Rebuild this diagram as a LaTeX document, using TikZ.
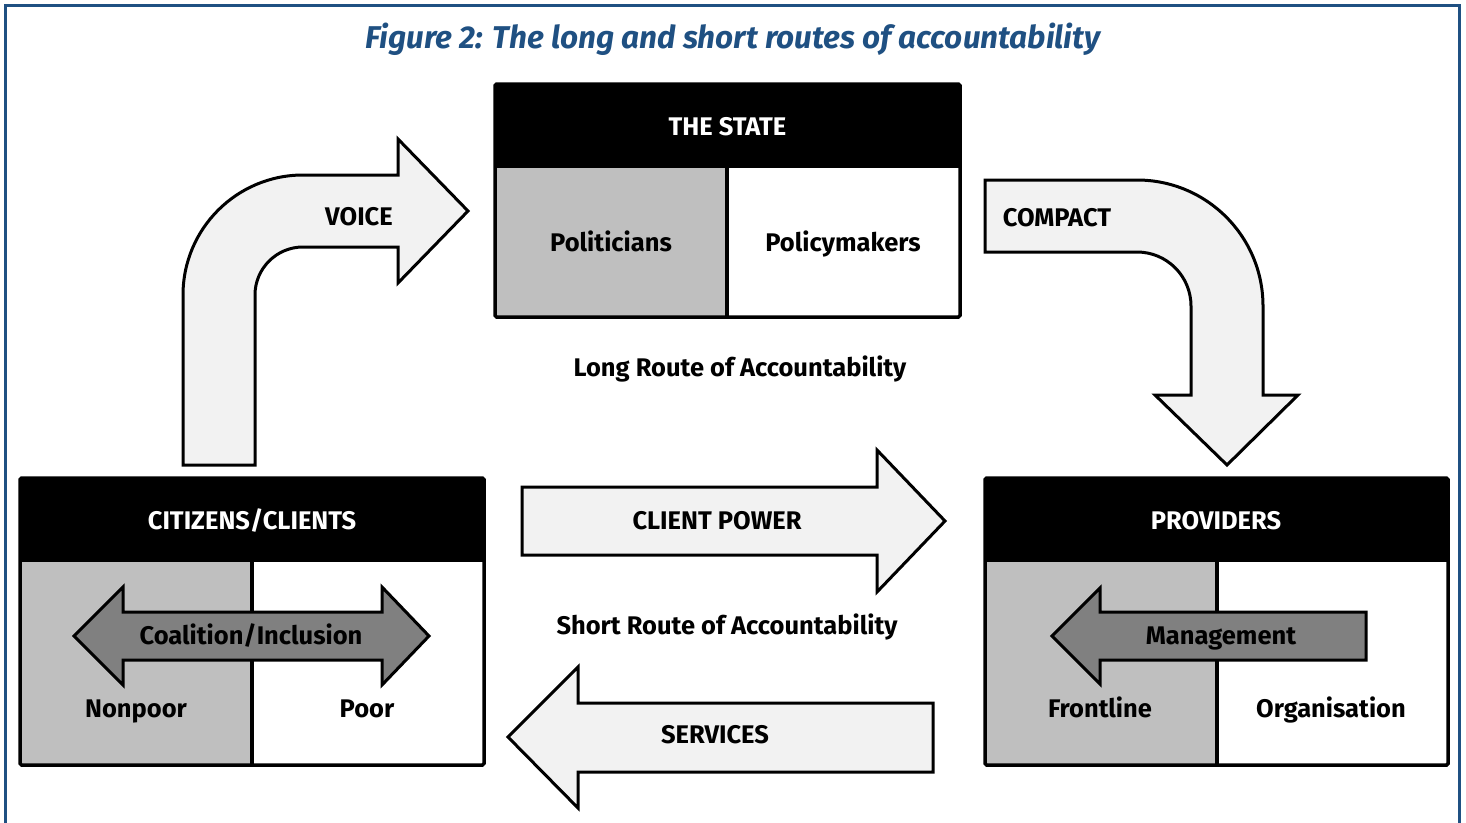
\documentclass[tikz,border=0pt]{standalone}
\usepackage{fontspec}
\setmainfont{Fira Sans}
\definecolor{framebl}{RGB}{31,80,130}
\definecolor{cellgr}{RGB}{191,191,191}
\definecolor{arrlight}{RGB}{242,242,242}
\definecolor{arrdark}{RGB}{128,128,128}
\tikzset{
  lbl/.style={font=\fontsize{25.5}{30}\selectfont\bfseries,inner sep=0pt,text height=17.6pt,text depth=0pt},
  hdrlbl/.style={lbl,text=white},
  blockarr/.style={draw,line width=3pt,fill=arrlight,line join=miter},
  innerarr/.style={blockarr,fill=arrdark},
  boxline/.style={draw,line width=3.5pt,rounded corners=1.5pt}
}
\begin{document}
\begin{tikzpicture}[x=1pt,y=-1pt]
\clip (0,0) rectangle (1466,822);
\draw[framebl,line width=3pt] (5,5) rectangle (1459,860);
\node[font=\fontsize{31.5}{36}\selectfont\bfseries\itshape,text=framebl,inner sep=0pt,text height=21.7pt,text depth=0pt] (title) at (733,38) {Figure 2: The long and short routes of accountability};
% the state
\fill (495,84) rectangle (960,168);
\fill[cellgr] (495,168) rectangle (727,317);
\draw[line width=3.5pt] (727,168)--(727,317);
\draw[boxline] (495,84) rectangle (960,317);
\node[hdrlbl] (state) at (727.5,127) {THE STATE};
\node[lbl] (politicians) at (611,243) {Politicians};
\node[lbl] (policymakers) at (843,243) {Policymakers};
\node[lbl] (longroute) at (740,368) {Long Route of Accountability};
% citizens/clients
\fill (20,478) rectangle (484,562);
\fill[cellgr] (20,562) rectangle (252,765);
\draw[line width=3.5pt] (252,562)--(252,765);
\draw[boxline] (20,478) rectangle (484,765);
\node[hdrlbl] (citizens) at (252,521) {CITIZENS/CLIENTS};
\node[lbl] (nonpoor) at (136,709) {Nonpoor};
\node[lbl] (poor) at (367,709) {Poor};
% providers
\fill (985,478) rectangle (1448,562);
\fill[cellgr] (985,562) rectangle (1217,765);
\draw[line width=3.5pt] (1217,562)--(1217,765);
\draw[boxline] (985,478) rectangle (1448,765);
\node[hdrlbl] (providers) at (1216,521) {PROVIDERS};
\node[lbl] (frontline) at (1100,709) {Frontline};
\node[lbl] (organisation) at (1331,709) {Organisation};
% arrows
\draw[blockarr] (183,465)--(183,295) arc(180:270:120)--(398,175)--(398,139)--(468,211)--(398,283)--(398,247)--(303,247) arc(270:180:48)--(255,465)--cycle;
\node[lbl] (voice) at (359,217) {VOICE};
\draw[blockarr] (985,180)--(1137,180) arc(270:360:126)--(1263,395)--(1298,395)--(1227,465)--(1155,395)--(1191,395)--(1191,306) arc(0:-90:54)--(985,252)--cycle;
\node[lbl] (compact) at (1057,218) {COMPACT};
\draw[blockarr] (522,487)--(877,487)--(877,450)--(945,521)--(877,592)--(877,555)--(522,555)--cycle;
\node[lbl] (clientpower) at (717,521) {CLIENT POWER};
\node[lbl] (shortroute) at (727,626) {Short Route of Accountability};
\draw[blockarr] (508,737)--(578,667)--(578,703)--(933,703)--(933,772)--(578,772)--(578,808)--cycle;
\node[lbl] (services) at (715,735) {SERVICES};
\draw[innerarr] (74,636)--(123,587)--(123,612)--(382,612)--(382,587)--(429,636)--(382,685)--(382,660)--(123,660)--(123,685)--cycle;
\node[lbl] (coalition) at (251,636) {Coalition/Inclusion};
\draw[innerarr] (1052,636)--(1100,588)--(1100,612)--(1366,612)--(1366,660)--(1100,660)--(1100,684)--cycle;
\node[lbl] (management) at (1221,636) {Management};
\end{tikzpicture}
\end{document}
